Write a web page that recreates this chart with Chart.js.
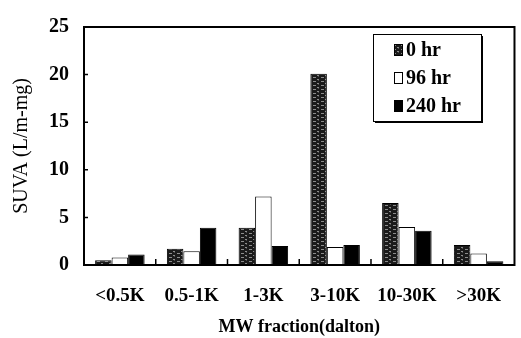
<!DOCTYPE html>
<html>
<head>
<meta charset="utf-8">
<script src="https://cdn.jsdelivr.net/npm/chart.js@4.4.0/dist/chart.umd.min.js"></script>
<style>
html, body { margin: 0; padding: 0; background: #fff; overflow: hidden; }
canvas { display: block; }
</style>
</head>
<body>
<canvas id="chart" width="521" height="338"></canvas>
<script>
// Data
const categories = ['<0.5K', '0.5-1K', '1-3K', '3-10K', '10-30K', '>30K'];
const seriesLabels = ['0 hr', '96 hr', '240 hr'];
const hr0 = [0.5, 1.7, 3.9, 20.1, 6.5, 2.1];
const hr96 = [0.8, 1.45, 7.2, 1.9, 4.0, 1.2];
const hr240 = [1.1, 3.9, 2.0, 2.1, 3.6, 0.4];
const yMax = 25;
const yStep = 5;

const serif = "'Liberation Serif', 'Times New Roman', serif";

// Speckled dark fill for the 0 hr bars (fixed tile, no randomness)
function makeSpeckle() {
    const c = document.createElement('canvas');
    c.width = 8; c.height = 4;
    const g = c.getContext('2d');
    g.fillStyle = '#1a1a1a';
    g.fillRect(0, 0, 8, 4);
    g.fillStyle = '#8c8c8c';
    g.fillRect(1, 1, 3, 1);
    g.fillRect(5, 3, 2, 1);
    g.fillStyle = '#4a4a4a';
    g.fillRect(6, 0, 1, 1);
    return g.createPattern(c, 'repeat');
}
const speckle = makeSpeckle();

// Box frame plus inward tick marks
const framePlugin = {
    id: 'frame',
    afterDatasetsDraw(chart) {
        const { ctx, chartArea: a, scales: { x, y } } = chart;
        ctx.save();
        ctx.strokeStyle = '#000';
        ctx.lineWidth = 2;
        ctx.strokeRect(a.left, a.top, a.right - a.left, a.bottom - a.top);
        ctx.lineWidth = 1.5;
        ctx.beginPath();
        y.ticks.forEach(t => {
            if (t.value > 0 && t.value < yMax) {
                const py = y.getPixelForValue(t.value);
                ctx.moveTo(a.left, py);
                ctx.lineTo(a.left + 4, py);
            }
        });
        for (let i = 1; i < categories.length; i++) {
            const px = (x.getPixelForValue(i - 1) + x.getPixelForValue(i)) / 2;
            ctx.moveTo(px, a.bottom);
            ctx.lineTo(px, a.bottom - 6);
        }
        ctx.stroke();
        ctx.restore();
    }
};

// Boxed legend with drop shadow inside the plot
const legendPlugin = {
    id: 'boxLegend',
    afterDraw(chart) {
        const ctx = chart.ctx;
        const bx = 373, by = 34, bw = 108, bh = 87;
        ctx.save();
        ctx.fillStyle = '#000';
        ctx.fillRect(bx + 2, by + 2, bw, bh);
        ctx.fillStyle = '#fff';
        ctx.fillRect(bx, by, bw, bh);
        ctx.strokeStyle = '#000';
        ctx.lineWidth = 1;
        ctx.strokeRect(bx + 0.5, by + 0.5, bw, bh);
        ctx.font = 'bold 20px ' + serif;
        ctx.textBaseline = 'middle';
        ctx.textAlign = 'left';
        chart.data.datasets.forEach((ds, i) => {
            const cy = 50 + i * 28;
            ctx.fillStyle = ds.backgroundColor;
            ctx.fillRect(394, cy - 6, 9, 12);
            ctx.strokeRect(394.5, cy - 5.5, 8, 11);
            ctx.fillStyle = '#000';
            ctx.fillText(ds.label, 406, cy + 1);
        });
        ctx.restore();
    }
};

new Chart(document.getElementById('chart'), {
    type: 'bar',
    data: {
        labels: categories,
        datasets: [
            { label: seriesLabels[0], data: hr0, backgroundColor: speckle, borderColor: '#000', borderWidth: 1 },
            { label: seriesLabels[1], data: hr96, backgroundColor: '#fff', borderColor: '#000', borderWidth: 1 },
            { label: seriesLabels[2], data: hr240, backgroundColor: '#000', borderColor: '#000', borderWidth: 1 }
        ]
    },
    options: {
        responsive: false,
        animation: false,
        devicePixelRatio: 1,
        layout: { padding: { top: 14, right: 1, left: 0, bottom: 0 } },
        datasets: { bar: { categoryPercentage: 0.69, barPercentage: 1.0 } },
        plugins: { legend: { display: false }, tooltip: { enabled: false } },
        scales: {
            x: {
                grid: { display: false, drawTicks: false },
                border: { display: false },
                ticks: { color: '#000', padding: 20, maxRotation: 0, font: { family: serif, size: 19, weight: 'bold' } },
                title: {
                    display: true, text: 'MW fraction(dalton)', color: '#000',
                    padding: { top: 1, bottom: 0 },
                    font: { family: serif, size: 18, weight: 'bold' }
                },
                afterFit(scale) { scale.height = 73; }
            },
            y: {
                min: 0, max: yMax,
                grid: { display: false, drawTicks: false },
                border: { display: false },
                ticks: { stepSize: yStep, color: '#000', padding: 15, font: { family: serif, size: 20, weight: 'bold' } },
                title: {
                    display: true, text: 'SUVA (L/m-mg)', color: '#000',
                    padding: { top: 10, bottom: 0 },
                    font: { family: serif, size: 20, weight: 'normal' }
                },
                afterFit(scale) { scale.width = 84; }
            }
        }
    },
    plugins: [framePlugin, legendPlugin]
});
</script>
</body>
</html>
